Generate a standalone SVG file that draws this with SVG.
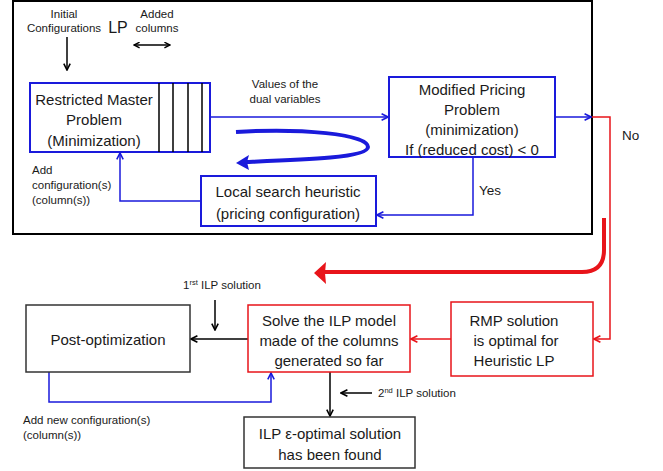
<svg xmlns="http://www.w3.org/2000/svg" width="663" height="471" viewBox="0 0 663 471">
<defs>
<marker id="ab" viewBox="0 0 10 10" refX="9" refY="5" markerWidth="8" markerHeight="8" markerUnits="userSpaceOnUse" orient="auto"><path d="M1,1 L9,5 L1,9" fill="none" stroke="#1a1adb" stroke-width="2"/></marker>
<marker id="ak" viewBox="0 0 10 10" refX="9" refY="5" markerWidth="8" markerHeight="8" markerUnits="userSpaceOnUse" orient="auto"><path d="M1,1 L9,5 L1,9" fill="none" stroke="#000" stroke-width="2"/></marker>
<marker id="ar" viewBox="0 0 10 10" refX="9" refY="5" markerWidth="8" markerHeight="8" markerUnits="userSpaceOnUse" orient="auto"><path d="M1,1 L9,5 L1,9" fill="none" stroke="#e8141a" stroke-width="2"/></marker>
<marker id="aks" viewBox="0 0 10 10" refX="9" refY="5" markerWidth="7" markerHeight="7" markerUnits="userSpaceOnUse" orient="auto-start-reverse"><path d="M1,1 L9,5 L1,9" fill="none" stroke="#000" stroke-width="2"/></marker>
</defs>
<style>
text{font-family:"Liberation Sans",Arial,sans-serif;fill:#1a1a1a}
.t{font-size:15px;text-anchor:middle}
.s{font-size:11.5px}
.bb{fill:#fff;stroke:#1a1adb;stroke-width:2}
.kb{fill:#fff;stroke:#333;stroke-width:1.5}
.rb{fill:#fff;stroke:#e8141a;stroke-width:1.5}
.bl{fill:none;stroke:#1a1adb;stroke-width:1.5}
.kl{fill:none;stroke:#000;stroke-width:1.5}
.rl{fill:none;stroke:#e8141a;stroke-width:1.5}
</style>
<rect id="frame" x="13" y="1" width="579" height="233" fill="none" stroke="#000" stroke-width="2"/>
<g id="connectors">
<path class="kl" d="M67,37 V70" marker-end="url(#ak)"/>
<path class="kl" d="M134,45 H170" marker-start="url(#aks)" marker-end="url(#aks)"/>
<path class="bl" d="M210,117 H388" marker-end="url(#ab)"/>
<path class="bl" d="M555,117 H591" marker-end="url(#ab)"/>
<path class="bl" d="M473,157 V215 H377" marker-end="url(#ab)"/>
<path class="bl" d="M201,201 H120 V153" marker-end="url(#ab)"/>
<path d="M236,132 C300,128 368,134 368,147 C368,158 300,160 246,162" fill="none" stroke="#1a1adb" stroke-width="4"/>
<path d="M236,163 L249,155 L247,162 L249,170 Z" fill="#1a1adb"/>
<path class="rl" d="M592,117 H610 V339 H594" marker-end="url(#ar)"/>
<path d="M604,218 V250 Q604,272 582,272 H322" fill="none" stroke="#e8141a" stroke-width="4"/>
<path d="M314,273 L326,262 L325,273 L326,284 Z" fill="#e8141a"/>
<path class="rl" d="M451,339 H411" marker-end="url(#ar)"/>
<path class="kl" d="M248,339 H191" marker-end="url(#ak)"/>
<path class="kl" d="M215,300 V330" marker-end="url(#ak)"/>
<path class="bl" d="M49,372 V402 H271 V373" marker-end="url(#ab)"/>
<path class="kl" d="M330,372 V416" stroke-width="2" marker-end="url(#ak)"/>
<path class="kl" d="M372,393 H341" marker-end="url(#ak)"/>
</g>
<g id="labels">
<text class="s" x="64" y="18" text-anchor="middle">Initial</text>
<text class="s" x="64" y="32" text-anchor="middle">Configurations</text>
<text x="118" y="33" font-size="16" text-anchor="middle">LP</text>
<text class="s" x="157" y="18" text-anchor="middle">Added</text>
<text class="s" x="157" y="32" text-anchor="middle">columns</text>
<text class="s" x="285" y="88" text-anchor="middle">Values of the</text>
<text class="s" x="285" y="103" text-anchor="middle">dual variables</text>
<text class="s" x="32" y="174">Add</text>
<text class="s" x="32" y="189">configuration(s)</text>
<text class="s" x="32" y="204">(column(s))</text>
<text x="479" y="195" font-size="13.5">Yes</text>
<text x="622" y="140" font-size="13.5">No</text>
<text class="s" x="183" y="289">1<tspan font-size="7.5" dy="-4">rst</tspan><tspan dy="4"> ILP solution</tspan></text>
<text class="s" x="23" y="424">Add new configuration(s)</text>
<text class="s" x="23" y="439">(column(s))</text>
<text class="s" x="378" y="397">2<tspan font-size="7.5" dy="-4">nd</tspan><tspan dy="4"> ILP solution</tspan></text>
</g>
<g id="rmp">
<rect class="bb" x="30" y="83" width="180" height="69"/>
<path d="M159,83 V152 M173,83 V152 M188,83 V152 M202,83 V152" stroke="#000" stroke-width="1.5"/>
<text class="t" x="94" y="105">Restricted Master</text>
<text class="t" x="94" y="125">Problem</text>
<text class="t" x="94" y="146">(Minimization)</text>
</g>
<g id="pricing">
<rect class="bb" x="389" y="77" width="166" height="80"/>
<text class="t" x="472" y="95">Modified Pricing</text>
<text class="t" x="472" y="115">Problem</text>
<text class="t" x="472" y="135">(minimization)</text>
<text class="t" x="472" y="155">If (reduced cost) &lt; 0</text>
</g>
<g id="local">
<rect class="bb" x="201" y="176" width="175" height="50"/>
<text class="t" x="288" y="197">Local search heuristic</text>
<text class="t" x="288" y="219">(pricing configuration)</text>
</g>
<g id="postopt">
<rect class="kb" x="26" y="305" width="164" height="67"/>
<text class="t" x="108" y="345">Post-optimization</text>
</g>
<g id="solve">
<rect class="rb" x="248" y="305" width="162" height="67"/>
<text class="t" x="329" y="326">Solve the ILP model</text>
<text class="t" x="329" y="346">made of the columns</text>
<text class="t" x="329" y="366">generated so far</text>
</g>
<g id="rmpsol">
<rect class="rb" x="451" y="302" width="142" height="74"/>
<text class="t" x="514" y="326">RMP solution</text>
<text class="t" x="516" y="346">is optimal for</text>
<text class="t" x="514" y="366">Heuristic LP</text>
</g>
<g id="ilpopt">
<rect class="kb" x="244" y="417" width="171" height="51"/>
<text class="t" x="330" y="439">ILP ε-optimal solution</text>
<text class="t" x="330" y="460">has been found</text>
</g>
</svg>
